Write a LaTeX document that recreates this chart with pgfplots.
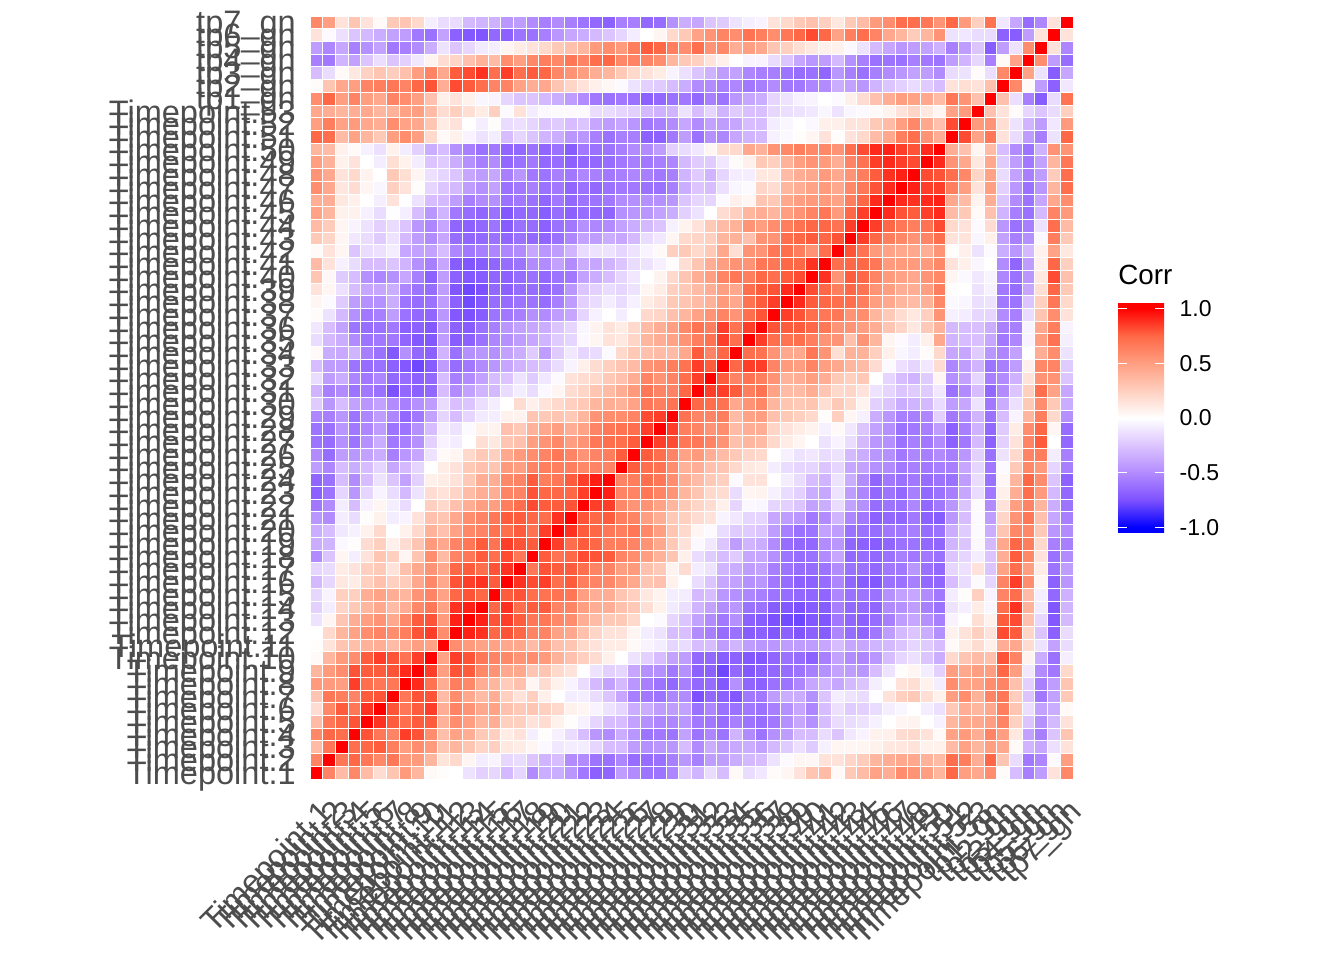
\documentclass[border=0pt]{standalone}
\usepackage{fontspec}
\setmainfont{Liberation Sans}
\usepackage{pgfplots}
\pgfplotsset{compat=1.18}
\definecolor{axtxt}{HTML}{4D4D4D}
\newcount\rowidx \rowidx=61
\newcount\colidx
\gdef\coords{}
\newcommand\R[1]{\global\advance\rowidx by -1 \global\colidx=0
 \foreach \v in {#1}{\global\advance\colidx by 1
  \xdef\coords{\coords (\the\colidx,\the\rowidx)[\v] (\the\rowidx,\the\colidx)[\v] }}%
 \xdef\coords{\coords (\the\rowidx,\the\rowidx)[100] }}
% lower triangle of the symmetric matrix: row 60 (top) first, values in percent for columns 1..row-1
\R{60,50,15,30,15,3,28,30,20,-7,-15,-15,-30,-32,-33,-45,-42,-50,-55,-50,%
-55,-60,-65,-68,-55,-55,-65,-63,-48,-35,-38,-25,-22,-12,-7,-5,15,20,28,32,%
25,12,28,35,52,58,72,72,68,55,75,52,25,70,-10,-38,-63,-52,15}
\R{15,-2,-13,-25,-30,-35,-40,-42,-58,-61,-40,-68,-72,-73,-65,-68,-60,-61,-55,-45,%
-38,-35,-30,-25,-18,-8,0,5,20,28,48,55,62,58,70,65,58,68,75,82,%
75,48,65,72,62,45,38,27,38,55,-12,-10,-15,-15,-68,-70,-42,15}
\R{-42,-52,-38,-55,-48,-40,-58,-55,-50,-35,-12,-25,-17,-9,-7,5,10,15,20,28,%
32,38,52,58,52,65,78,75,65,58,72,55,60,42,50,45,30,25,17,12,%
8,7,-3,-12,-30,-38,-45,-42,-40,-33,-55,-42,-25,-70,-42,-12,58}
\R{-55,-58,-32,-40,-25,-14,-25,-20,-10,6,18,22,32,40,35,58,50,60,65,60,%
68,62,72,75,60,62,62,58,38,28,25,15,8,0,-5,-5,-15,-25,-38,-45,%
-42,-30,-48,-55,-61,-60,-61,-55,-58,-60,-42,-32,-17,-55,3,48}
\R{-28,-15,3,12,24,30,26,32,50,62,45,78,82,88,72,85,72,78,75,60,%
55,50,42,38,28,20,15,10,-5,-13,-25,-33,-42,-40,-52,-55,-55,-60,-63,-61,%
-66,-45,-55,-61,-55,-50,-45,-40,-42,-50,-15,-12,2,-14,60}
\R{2,30,45,50,62,65,68,62,75,80,42,82,78,72,62,62,48,42,45,30,%
22,15,8,4,-2,-12,-20,-22,-28,-35,-50,-50,-55,-52,-58,-55,-50,-58,-58,-52,%
-50,-35,-40,-45,-32,-25,-20,-15,-22,-28,15,17,15,32}
\R{58,75,50,62,50,45,62,58,50,32,8,15,7,-4,-5,-18,-25,-25,-30,-35,%
-42,-50,-58,-61,-58,-61,-68,-65,-61,-58,-65,-55,-60,-45,-38,-35,-18,-12,-6,-5,%
0,-2,8,18,32,42,50,48,45,35,68,55,32}
\R{45,42,38,42,45,38,40,48,50,35,18,25,17,10,25,-2,15,-8,-3,-2,%
-2,-2,-15,-15,-18,-20,-30,-33,-32,-12,-28,-18,-32,-22,-27,-27,-17,-14,-12,-10,%
-4,-12,-4,-2,3,6,15,22,12,5,48,52}
\R{50,65,48,52,45,42,58,48,45,30,10,15,0,-7,1,-15,-13,-18,-25,-22,%
-28,-25,-38,-42,-38,-45,-58,-55,-50,-38,-50,-40,-42,-38,-28,-28,-8,-4,0,-3,%
8,8,14,15,28,35,50,60,45,32,82}
\R{75,72,35,48,38,28,50,58,50,20,3,7,-5,-12,-8,-28,-18,-25,-32,-35,%
-45,-45,-55,-61,-55,-55,-68,-68,-58,-42,-61,-48,-52,-38,-32,-30,-6,-3,1,5,%
15,1,15,20,35,45,65,72,55,42}
\R{38,35,7,3,-6,-13,7,-8,-20,-35,-28,-48,-55,-61,-58,-66,-65,-61,-66,-61,%
-70,-58,-61,-60,-55,-50,-50,-42,-20,-15,-10,5,18,20,45,40,55,60,65,60,%
60,55,72,82,90,92,85,80,90}
\R{50,40,7,15,0,-8,17,7,-8,-25,-22,-35,-48,-55,-50,-65,-61,-58,-65,-63,%
-68,-65,-65,-63,-58,-55,-58,-55,-52,-30,-22,-22,-10,2,8,28,25,40,50,55,%
52,42,62,70,85,90,85,82}
\R{55,45,15,20,6,0,28,17,5,-13,-18,-25,-38,-42,-38,-55,-45,-58,-60,-55,%
-58,-52,-55,-58,-55,-52,-55,-58,-55,-32,-22,-32,-18,-8,-8,12,12,35,42,45,%
52,45,55,65,78,88,92}
\R{58,45,13,18,5,-4,25,15,1,-18,-25,-30,-42,-48,-40,-61,-58,-55,-61,-58,%
-66,-61,-65,-61,-58,-58,-61,-61,-55,-35,-25,-28,-13,-4,-2,22,18,38,42,48,%
52,45,60,68,80,90}
\R{42,42,12,8,0,-7,15,-1,-12,-28,-30,-42,-55,-50,-48,-61,-58,-61,-66,-58,%
-65,-60,-60,-58,-50,-48,-48,-48,-45,-25,-18,-18,-2,8,5,30,28,45,50,52,%
52,48,65,75,90}
\R{48,38,7,7,-6,-15,-1,-7,-28,-45,-32,-58,-63,-66,-61,-72,-65,-65,-70,-63,%
-68,-63,-65,-66,-48,-45,-45,-40,-35,-20,-12,0,18,25,38,42,38,50,55,62,%
68,52,75,85}
\R{35,27,5,-5,-12,-20,-15,-25,-45,-52,-38,-66,-68,-65,-60,-70,-61,-63,-68,-61,%
-58,-48,-52,-50,-40,-35,-30,-25,-6,6,15,28,35,40,55,50,58,65,70,75,%
75,70,85}
\R{28,22,5,-10,-15,-22,-12,-30,-42,-50,-38,-63,-66,-65,-61,-66,-61,-65,-66,-61,%
-52,-40,-42,-35,-38,-30,-15,-10,5,20,22,25,38,40,32,55,55,72,75,78,%
75,80}
\R{3,15,5,-25,-15,-13,-8,-38,-40,-40,-28,-52,-58,-55,-52,-52,-50,-38,-45,-42,%
-32,-15,-12,-12,-18,-12,-5,3,25,28,20,28,45,17,55,55,68,72,65,55,%
72}
\R{35,15,-6,-15,-28,-28,-25,-32,-48,-55,-38,-70,-73,-70,-66,-63,-60,-50,-50,-40,%
-50,-35,-38,-32,-25,-15,-12,-6,1,17,30,42,50,55,55,68,68,75,75,88}
\R{30,4,-22,-28,-48,-52,-48,-38,-55,-68,-42,-68,-72,-70,-66,-68,-63,-61,-65,-60,%
-58,-40,-35,-28,-18,-10,0,6,20,30,42,50,62,68,65,75,72,78,82}
\R{15,5,-13,-28,-38,-38,-35,-52,-60,-63,-42,-73,-78,-75,-65,-68,-63,-63,-65,-61,%
-45,-25,-20,-15,-18,-12,5,10,25,28,35,42,50,45,72,78,80,90}
\R{5,-2,-22,-42,-48,-48,-35,-60,-63,-61,-42,-68,-77,-72,-63,-63,-60,-60,-63,-55,%
-42,-20,-15,-8,-15,-6,10,15,28,30,35,40,52,45,70,78,85}
\R{2,-12,-30,-48,-58,-55,-42,-61,-65,-66,-45,-72,-75,-70,-60,-58,-55,-48,-50,-42,%
-38,-18,-6,0,-8,0,20,22,32,38,48,55,62,55,72,80}
\R{-10,-28,-40,-60,-63,-61,-58,-68,-68,-72,-45,-68,-70,-61,-55,-45,-40,-38,-35,-25,%
-18,-4,6,15,10,20,35,42,50,60,70,65,85,70,85}
\R{-15,-30,-35,-50,-60,-58,-58,-66,-72,-72,-42,-70,-68,-61,-52,-48,-42,-38,-32,-22,%
-18,-3,5,15,12,22,38,42,48,55,65,70,85,72}
\R{3,-35,-37,-32,-55,-61,-72,-48,-65,-68,-32,-61,-48,-45,-48,-40,-35,-22,-42,-22,%
-10,-18,-15,-2,20,28,32,35,35,45,78,62,75}
\R{-28,-42,-42,-60,-63,-61,-68,-72,-78,-70,-42,-63,-58,-50,-45,-38,-32,-28,-25,-15,%
-5,8,18,25,30,35,55,58,65,70,85,78}
\R{-15,-42,-35,-52,-58,-52,-65,-63,-68,-65,-28,-55,-50,-40,-28,-25,-12,-22,-10,-2,%
15,18,20,28,32,42,62,55,62,72,85}
\R{-32,-55,-50,-60,-58,-61,-75,-65,-68,-65,-28,-50,-40,-32,-30,-15,-8,-15,-3,5,%
18,22,30,35,42,52,68,62,62,75}
\R{-22,-45,-28,-40,-45,-40,-50,-55,-48,-42,-15,-27,-25,-14,-8,0,18,8,15,20,%
25,28,38,42,40,48,68,65,70}
\R{-52,-55,-45,-60,-52,-42,-52,-65,-58,-40,-18,-28,-18,-9,-8,7,6,30,28,30,%
28,38,55,58,58,62,82,85}
\R{-60,-61,-45,-58,-52,-42,-60,-60,-48,-28,-8,-12,-2,7,6,32,28,40,45,50,%
42,48,62,68,70,72,85}
\R{-60,-63,-48,-60,-48,-35,-58,-55,-48,-20,-5,-8,0,17,12,30,32,50,55,60,%
50,55,68,72,72,78}
\R{-50,-63,-42,-45,-40,-35,-55,-45,-38,-12,3,5,20,28,25,45,52,58,62,68,%
62,55,62,65,78}
\R{-42,-52,-28,-35,-28,-18,-38,-30,-18,0,10,15,28,32,30,52,50,62,65,65,%
65,60,62,62}
\R{-66,-61,-28,-50,-28,-12,-25,-40,-20,8,10,15,28,42,42,60,62,78,65,68,%
78,85,93}
\R{-68,-60,-18,-45,-18,-5,-15,-30,-12,18,15,22,35,42,42,62,62,80,75,75,%
75,85}
\R{-58,-50,-8,-28,-6,5,-7,-15,0,25,20,32,42,50,50,65,72,82,78,78,%
80}
\R{-45,-50,-8,-15,1,7,-8,-5,15,32,30,45,58,62,68,78,78,75,72,88}
\R{-35,-28,-10,-6,7,20,0,7,20,40,32,48,60,62,70,72,78,70,85}
\R{-35,-32,-3,1,18,25,8,18,30,52,45,62,68,78,70,85,80,78}
\R{-50,-25,5,-7,15,30,25,5,30,58,35,62,68,78,72,82,68}
\R{-18,-15,10,15,25,28,15,32,45,55,45,75,78,72,80,88}
\R{-30,-17,12,10,25,32,25,27,45,60,45,80,85,88,78}
\R{-17,-5,25,25,42,48,42,38,55,62,48,75,80,75}
\R{-20,-8,22,28,38,45,35,42,60,68,48,88,92}
\R{-12,5,30,42,50,55,45,60,78,80,52,92}
\R{0,20,38,48,58,62,58,65,80,85,58}
\R{1,14,30,33,40,42,35,42,50,48}
\R{3,38,52,58,78,85,80,70,85}
\R{38,52,58,80,78,78,80,90}
\R{52,52,50,85,72,68,68}
\R{30,68,65,62,78,80}
\R{18,60,78,68,88}
\R{35,68,75,80}
\R{60,75,72}
\R{35,68}
\R{62}
\xdef\coords{\coords (1,1)[100] }
\def\Labs{Timepoint.1,Timepoint.2,Timepoint.3,Timepoint.4,Timepoint.5,Timepoint.6,Timepoint.7,Timepoint.8,Timepoint.9,Timepoint.10,Timepoint.11,Timepoint.12,Timepoint.13,Timepoint.14,Timepoint.15,Timepoint.16,Timepoint.17,Timepoint.18,Timepoint.19,Timepoint.20,Timepoint.21,Timepoint.22,Timepoint.23,Timepoint.24,Timepoint.25,Timepoint.26,Timepoint.27,Timepoint.28,Timepoint.29,Timepoint.30,Timepoint.31,Timepoint.32,Timepoint.33,Timepoint.34,Timepoint.35,Timepoint.36,Timepoint.37,Timepoint.38,Timepoint.39,Timepoint.40,Timepoint.41,Timepoint.42,Timepoint.43,Timepoint.44,Timepoint.45,Timepoint.46,Timepoint.47,Timepoint.48,Timepoint.49,Timepoint.50,Timepoint.51,Timepoint.52,Timepoint.53,tp1\_gn,tp2\_gn,tp3\_gn,tp4\_gn,tp5\_gn,tp6\_gn,tp7\_gn}
\def\plotit#1{\addplot[scatter, only marks, mark=square*, mark size=4.77pt,
  scatter src=explicit, scatter/use mapped color={draw=white, fill=mapped color},
  mark options={line width=0.7pt}] coordinates {#1};}
\begin{document}
\begin{tikzpicture}[x=1pt,y=1pt]
\path[use as bounding box] (0,0) rectangle (1008,720);
\begin{axis}[at={(232.5pt,135.75pt)}, anchor=south west, scale only axis,
  width=572.25pt, height=572.25pt, xmin=0.5, xmax=60.5, ymin=0.5, ymax=60.5,
  clip=false, axis line style={draw=none}, major tick length=0pt,
  xtick={1,...,60}, ytick={1,...,60},
  xticklabels/.expand once=\Labs, yticklabels/.expand once=\Labs,
  tick label style={font=\fontsize{24.4pt}{24.4pt}\selectfont, text=axtxt, inner sep=0pt},
  x tick label style={rotate=45, anchor=north east, yshift=-10.5pt, xshift=-9.3pt},
  y tick label style={anchor=east, xshift=-10.5pt, yshift=-2.5pt},
  colormap={corr}{rgb255(0)=(0,0,255) rgb255(5)=(0,0,255) rgb255(30)=(125,81,255)
    rgb255(55)=(178,139,255) rgb255(80)=(220,196,255) rgb255(105)=(255,255,255)
    rgb255(130)=(255,207,191) rgb255(155)=(255,158,129) rgb255(180)=(255,104,70)
    rgb255(205)=(255,0,0) rgb255(210)=(255,0,0)},
  point meta min=-105, point meta max=105,
  colorbar, /pgfplots/colorbar/width=34.5pt,
  colorbar style={at={(1.05898,0.6239)}, anchor=north west, xshift=0pt,
    height=172.5pt, scale only axis,
    axis line style={draw=none}, axis on top,
    ytick={-100,-50,0,50,100}, yticklabels={-1.0,-0.5,0.0,0.5,1.0},
    major tick length=6.9pt, tick align=inside, ytick pos=both, yticklabel pos=right,
    y tick style={white, line width=0.5pt},
    y tick label style={font=\fontsize{17.25pt}{17.25pt}\selectfont, text=black, anchor=west, inner sep=0pt, xshift=11.5pt},
  },
]
\expandafter\plotit\expandafter{\coords}
\end{axis}
\node[anchor=base west, inner sep=0pt, font=\fontsize{20.85pt}{20.85pt}\selectfont, text=black] at (838.5,506.25) {Corr};
\end{tikzpicture}
\end{document}
